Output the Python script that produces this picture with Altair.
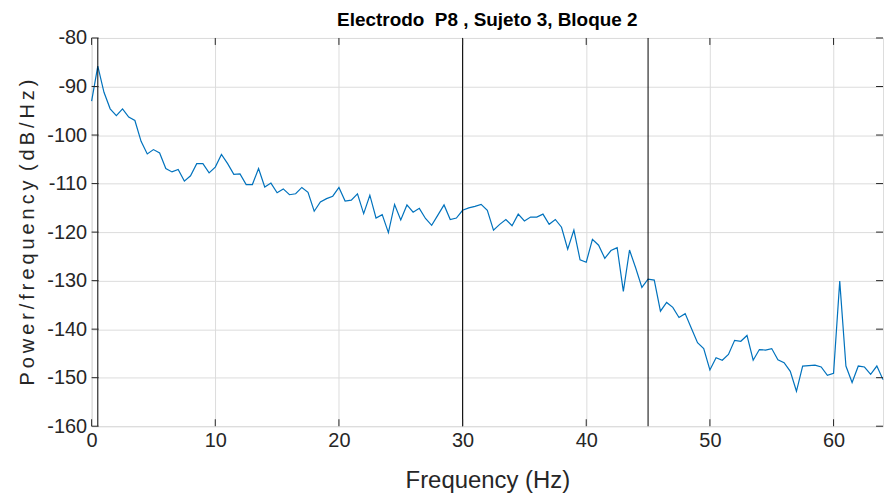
import altair as alt
import pandas as pd

# Power spectral density, 0.5 Hz resolution from 0 to 64 Hz
power_db = [
    -93.0, -85.8, -91.2, -94.6, -96.0, -94.6, -96.3, -97.0, -101.3, -103.9,
    -103.0, -103.7, -106.9, -107.6, -107.1, -109.5, -108.4, -105.9, -105.9, -107.8,
    -106.6, -104.0, -105.9, -108.1, -108.0, -110.2, -110.2, -106.9, -110.7, -109.9,
    -111.9, -111.1, -112.3, -112.1, -110.8, -111.8, -115.7, -113.8, -113.1, -112.6,
    -110.8, -113.6, -113.4, -112.1, -116.2, -112.4, -117.1, -116.4, -120.1, -114.3,
    -117.5, -114.4, -115.9, -115.1, -117.2, -118.6, -116.5, -114.4, -117.4, -117.1,
    -115.5, -115.0, -114.7, -114.3, -115.5, -119.6, -118.4, -117.4, -118.7, -116.3,
    -117.7, -116.9, -116.9, -116.3, -118.4, -117.4, -119.0, -123.5, -119.6, -125.7,
    -126.2, -121.5, -122.7, -125.4, -123.8, -123.2, -132.2, -123.7, -127.4, -131.4,
    -129.7, -129.9, -136.3, -134.5, -135.5, -137.6, -136.8, -139.8, -142.8, -144.0,
    -148.4, -145.9, -146.4, -145.2, -142.3, -142.5, -141.3, -146.4, -144.2, -144.3,
    -144.0, -146.3, -146.9, -148.7, -152.8, -147.6, -147.5, -147.4, -147.8, -149.5,
    -149.1, -130.1, -147.6, -151.0, -147.6, -147.8, -149.3, -147.6, -150.4,
]
freq_step = 0.5
freqs = [i * freq_step for i in range(len(power_db))]

marker_freqs = [0.5, 30, 45]
x_ticks = [0, 10, 20, 30, 40, 50, 60]
y_ticks = [-160, -150, -140, -130, -120, -110, -100, -90, -80]

W, H = 795, 390
FONT = "Liberation Sans"
AX = "#262626"
TS = "\u2009"
y_title = TS.join("Power/frequency") + " " + TS + TS.join("(dB/Hz)")

df = pd.DataFrame({"freq": freqs, "power": power_db})
df_marks = pd.DataFrame({"f": marker_freqs})
df_xt = pd.DataFrame({"t": x_ticks})
df_yt = pd.DataFrame({"t": y_ticks})

xscale = alt.Scale(domain=[0, 64], nice=False, zero=False)
yscale = alt.Scale(domain=[-160, -80], nice=False, zero=False)

xaxis = alt.Axis(values=x_ticks, grid=True, gridColor="#dcdcdc", gridWidth=1,
                 ticks=False, domain=False, labelFont=FONT, labelFontSize=20,
                 labelColor=AX, labelPadding=4, title="Frequency (Hz)",
                 titleFont=FONT, titleFontSize=24, titleFontWeight="normal",
                 titleColor=AX, titlePadding=19, labelFlush=False,
                 labelExpr="'' + datum.value")
yaxis = alt.Axis(values=y_ticks, grid=True, gridColor="#dcdcdc", gridWidth=1,
                 ticks=False, domain=False, labelFont=FONT, labelFontSize=20,
                 labelColor=AX, labelPadding=5, title=y_title,
                 titleFont=FONT, titleFontSize=20, titleFontWeight="normal",
                 titleColor=AX, titlePadding=9, labelFlush=False,
                 labelExpr="'' + datum.value")

line = alt.Chart(df).mark_line(color="#0072BD", strokeWidth=1.2).encode(
    x=alt.X("freq:Q", scale=xscale, axis=xaxis),
    y=alt.Y("power:Q", scale=yscale, axis=yaxis),
)

vlines = alt.Chart(df_marks).mark_rule(color="#000000", strokeWidth=1).encode(
    x=alt.X("f:Q", scale=xscale),
)

xt_bottom = alt.Chart(df_xt).mark_rule(color=AX, strokeWidth=1).encode(
    x=alt.X("t:Q", scale=xscale), y=alt.value(H), y2=alt.value(H - 7))
xt_top = alt.Chart(df_xt).mark_rule(color=AX, strokeWidth=1).encode(
    x=alt.X("t:Q", scale=xscale), y=alt.value(0), y2=alt.value(7))
yt_left = alt.Chart(df_yt).mark_rule(color=AX, strokeWidth=1).encode(
    y=alt.Y("t:Q", scale=yscale), x=alt.value(0), x2=alt.value(7))
yt_right = alt.Chart(df_yt).mark_rule(color=AX, strokeWidth=1).encode(
    y=alt.Y("t:Q", scale=yscale), x=alt.value(W), x2=alt.value(W - 7))

chart = alt.layer(line, vlines, xt_bottom, xt_top, yt_left, yt_right).properties(
    width=W, height=H,
    title=alt.Title("Electrodo\u00a0 P8 , Sujeto 3, Bloque 2", font=FONT, fontSize=19,
                    fontWeight="bold", color="#000000", anchor="middle", offset=-2),
    autosize=alt.AutoSizeParams(type="none"),
    padding={"left": 84, "top": 29, "right": 4, "bottom": 72},
).configure_view(stroke=AX, strokeWidth=1).configure(background="white")

chart.save("out.html", embed_options={"renderer": "svg", "actions": False})
